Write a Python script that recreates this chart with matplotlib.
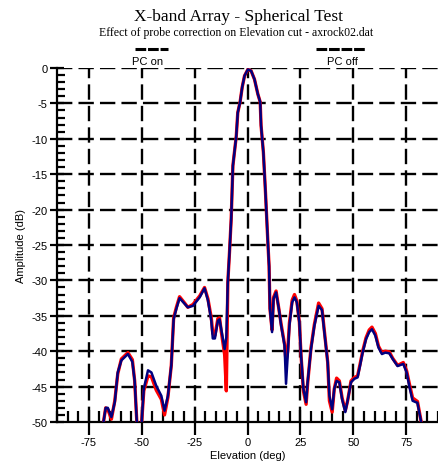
import matplotlib.pyplot as plt
from matplotlib.lines import Line2D
from matplotlib.ticker import MultipleLocator

# elevation samples (deg) shared by both cuts
elevation = [-68.3, -67, -66, -64.3, -62.7, -61.3, -59.6, -56.5, -54.4, -53.3,
             -52.2, -51, -50.1, -49, -47, -45.4, -43.1, -40.7, -39.2, -37.6,
             -36, -34.9, -33.6, -32.1, -29.7, -28.2, -25.8, -22.6, -20.3, -18.7,
             -17.1, -16.4, -15.4, -14, -13.2, -12.4, -10.8, -10, -9.3, -8.5,
             -7.7, -6.9, -5.3, -4.6, -3.5, -2.5, -1.4, 0.2, 1.7, 3.3,
             4.9, 6, 6.4, 7.5, 8.5, 9.6, 10.2, 10.6, 11.6, 12.3,
             13.5, 14.8, 15.9, 17.5, 18.2, 19, 19.8, 21.1, 22.2, 23.3,
             24.5, 25.3, 26.4, 27.7, 28.4, 30, 31.6, 33.6, 35.2, 36.3,
             37.9, 38.7, 40, 41, 42.1, 43.4, 44.7, 46.2, 47.3, 48.9,
             50.5, 52, 53.2, 54.4, 56, 57.5, 58.8, 60.4, 61.9, 63.5,
             65.1, 67, 68.6, 70.9, 73.6, 75.2, 76.4, 78, 80.3, 81.1, 82.4]

pc_off = [-50.5, -48, -48, -49.3, -47.2, -43, -41.3, -40.4, -41.5, -44.2,
          -50.5, -52, -50.5, -45.3, -42.7, -43, -44.9, -46.3, -48.4, -46.3,
          -42, -35.5, -34, -32.5, -33.3, -33.8, -33.6, -32.4, -31.1, -32.8,
          -35.7, -38.2, -38.2, -35.7, -35.5, -36.9, -39.7, -38, -30.3, -26,
          -21.3, -13.8, -9.6, -6.3, -4.8, -2.7, -1.1, -0.2, -0.4, -1.6,
          -3.7, -4.8, -8.1, -11.9, -17.6, -24.5, -28, -34, -37.3, -32.6,
          -31.7, -34, -36.4, -39.2, -44.6, -40.6, -36.4, -33.1, -32.4, -33.1,
          -35.9, -40.6, -45.3, -47.2, -44.4, -39.7, -36.4, -33.6, -34.2, -37.3,
          -41.6, -46.3, -48.2, -45.3, -44.2, -44.4, -46.8, -48.6, -47, -44.4,
          -43.9, -43.7, -42, -40.2, -38.3, -37.3, -36.9, -37.8, -39.5, -40.4,
          -40.2, -40.3, -41.1, -42.1, -41.8, -43, -44.9, -47, -47.3, -48.6, -50.5]

pc_on = [-50.5, -48, -48.2, -49.6, -47, -43.2, -41.1, -40.2, -41.2, -44.2,
         -50.5, -52, -50.5, -45.6, -43.5, -43.6, -45.5, -46.8, -49, -46.5,
         -42, -35.3, -33.8, -32.3, -33.2, -33.8, -33.4, -32.2, -31, -32.6,
         -35.3, -37.5, -37.8, -35.4, -35.3, -37.2, -40.5, -45.6, -30.3, -26,
         -21.3, -13.8, -9.6, -6.3, -4.8, -2.7, -1.1, -0.2, -0.4, -1.6,
         -3.7, -4.8, -8.1, -11.9, -17.6, -24.5, -28, -34, -37, -32.4,
         -31.5, -34, -36.2, -39, -41.5, -40, -36, -32.8, -32, -32.9,
         -35.9, -40.6, -45.6, -47.5, -44.6, -39.5, -36.2, -33.2, -34, -37.1,
         -41.6, -47, -48.6, -45.3, -43.8, -44.2, -46.6, -48.4, -47, -44.2,
         -43.7, -43.5, -41.8, -40, -38.1, -37, -36.6, -37.5, -39.3, -40.2,
         -40, -40.1, -41, -42, -41.6, -42.8, -44.5, -46.6, -47.1, -48.4, -50.5]

x_ticks = [-75, -50, -25, 0, 25, 50, 75]
y_ticks = [0, -5, -10, -15, -20, -25, -30, -35, -40, -45, -50]

plt.rcParams["font.family"] = ["Liberation Sans", "DejaVu Sans"]

fig = plt.figure(figsize=(4.38, 4.64), dpi=100)
ax = fig.add_axes([57 / 438, 1 - 423 / 464, 1 - 57 / 438, (423 - 69) / 464])

ax.plot(elevation, pc_on, color="#ff0000", lw=2.4, solid_joinstyle="round", zorder=3)
ax.plot(elevation, pc_off, color="#000080", lw=1.8, solid_joinstyle="round", zorder=4)

ax.set_xlim(-90, 90)
ax.set_ylim(-50, 0)
ax.set_xticks(x_ticks)
ax.set_yticks(y_ticks)
ax.set_yticklabels([str(v) for v in y_ticks])
ax.set_xticklabels([str(v) for v in x_ticks])
ax.xaxis.set_minor_locator(MultipleLocator(5))
ax.yaxis.set_minor_locator(MultipleLocator(1))

for v in x_ticks:
    ax.axvline(v, color="black", lw=1.7, dashes=(6.5, 2.6), zorder=1)
for v in y_ticks[:-1]:
    ax.axhline(v, color="black", lw=1.7, dashes=(6.5, 2.6), zorder=1)

for side in ["top", "right"]:
    ax.spines[side].set_visible(False)
for side in ["left", "bottom"]:
    ax.spines[side].set_linewidth(1.6)

ax.tick_params(axis="y", which="major", direction="inout", length=10, width=1.6,
               labelsize=8, pad=2)
ax.tick_params(axis="y", which="minor", direction="in", length=6, width=1.6)
ax.tick_params(axis="x", which="major", direction="inout", length=18, width=1.6,
               labelsize=8, pad=2)
ax.tick_params(axis="x", which="minor", direction="in", length=8, width=1.6)

ax.set_xlabel("Elevation (deg)", fontsize=8, labelpad=2)
ax.set_ylabel("Amplitude (dB)", fontsize=8, labelpad=4)

fig.text(238 / 438, 1 - 21 / 464, "X-band Array - Spherical Test",
         family="Liberation Serif", fontsize=12.5, ha="center", va="baseline")
fig.text(236 / 438, 1 - 36 / 464, "Effect of probe correction on Elevation cut - axrock02.dat",
         family="Liberation Serif", fontsize=8.5, ha="center", va="baseline")

# legend samples above the plot
fig.add_artist(Line2D([135 / 438, 168 / 438], [1 - 50 / 464] * 2, color="black",
                      lw=2.2, dashes=(3.5, 0.6), transform=fig.transFigure))
fig.add_artist(Line2D([316 / 438, 370 / 438], [1 - 50 / 464] * 2, color="black",
                      lw=2.2, dashes=(3.5, 0.6, 3.5, 0.6, 3.5, 0.6, 3.5, 2.5),
                      transform=fig.transFigure))
fig.text(148 / 438, 1 - 62 / 464, "PC on", fontsize=8, ha="center", va="center")
fig.text(342 / 438, 1 - 62 / 464, "PC off", fontsize=8, ha="center", va="center")

fig.savefig("out.png", dpi=100)
